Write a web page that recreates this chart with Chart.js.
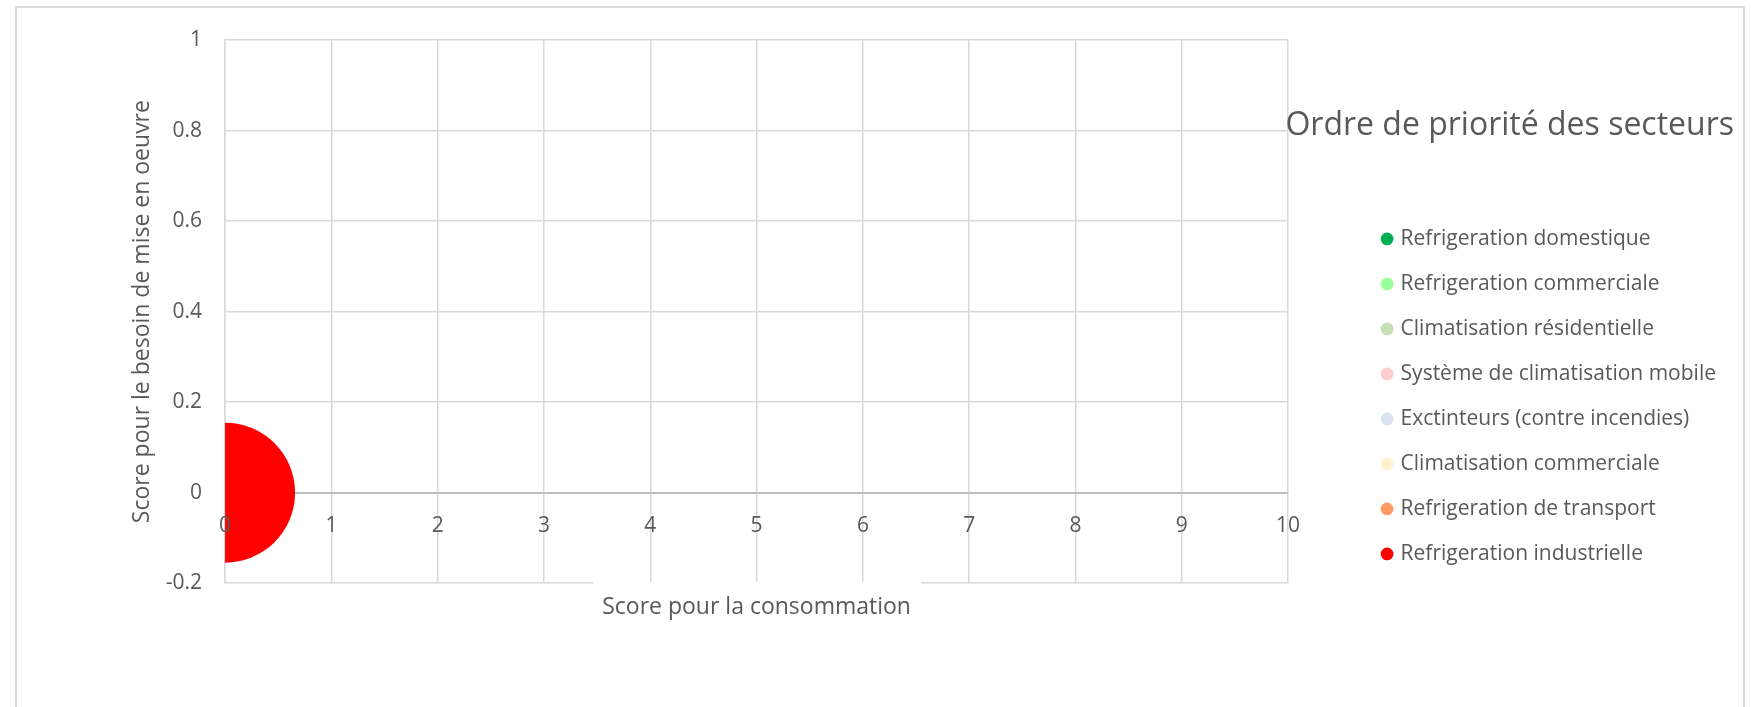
<!DOCTYPE html>
<html lang="fr">
<head>
<meta charset="utf-8">
<title>Ordre de priorité des secteurs</title>
<script src="https://cdn.jsdelivr.net/npm/chart.js@4.4.1/dist/chart.umd.min.js"></script>
<style>
  html, body { margin: 0; padding: 0; background: #ffffff; overflow: hidden; }
  #wrap { position: relative; width: 1751px; height: 707px; }
  #frame { position: absolute; left: 15px; top: 6px; width: 1730px; height: 760px;
           border: 2px solid #d9d9d9; box-sizing: border-box; }
  #chart { position: absolute; left: 0; top: 0; }
</style>
</head>
<body>
<div id="wrap">
  <div id="frame"></div>
  <canvas id="chart" width="1751" height="707"></canvas>
</div>
<script>
// Sectors, in legend order
const sectors = [
  'Refrigeration domestique',
  'Refrigeration commerciale',
  'Climatisation résidentielle',
  'Système de climatisation mobile',
  'Exctinteurs (contre incendies)',
  'Climatisation commerciale',
  'Refrigeration de transport',
  'Refrigeration industrielle'
];
const sectorColors = ['#00B050', '#99FF99', '#C5E0B4', '#FFCCCC', '#DAE3F3', '#FFF2CC', '#FF9966', '#FF0000'];

// Scores per sector (null = no point plotted)
const consumptionScore   = [null, null, null, null, null, null, null, 0];
const implementationNeed = [null, null, null, null, null, null, null, 0];
const bubbleSize         = [null, null, null, null, null, null, null, 1];

// Axis ticks
const xTickValues = [0, 1, 2, 3, 4, 5, 6, 7, 8, 9, 10];
const xTickLabels = ['0', '1', '2', '3', '4', '5', '6', '7', '8', '9', '10'];
const yTickValues = [-0.2, 0, 0.2, 0.4, 0.6, 0.8, 1];
const yTickLabels = ['-0.2', '0', '0.2', '0.4', '0.6', '0.8', '1'];

const LEGEND_TITLE = 'Ordre de priorité des secteurs';

const FONT = "'Open Sans', 'Liberation Sans', sans-serif";
const TEXT = '#595959';
const GRID = '#d9d9d9';
const MAX_BUBBLE_RADIUS = 70;
const LEGEND_TITLE_SIZE = 32;
const maxSize = Math.max(...bubbleSize.filter(v => v !== null));

const datasets = sectors.map((name, i) => ({
  label: name,
  xAxisID: 'x',
  yAxisID: 'y',
  backgroundColor: sectorColors[i],
  borderWidth: 0,
  pointStyle: 'circle',
  clip: 0,
  data: consumptionScore[i] === null ? [] : [{
    x: consumptionScore[i],
    y: implementationNeed[i],
    r: MAX_BUBBLE_RADIUS * Math.sqrt(bubbleSize[i] / maxSize)
  }]
}));

// White backdrop behind the horizontal axis title, cutting the bottom grid line
const axisTitleBackdrop = {
  id: 'axisTitleBackdrop',
  beforeDatasetsDraw(chart) {
    const t = chart.scales.x2.options.title;
    const { ctx, chartArea } = chart;
    ctx.save();
    ctx.font = t.font.size + 'px ' + t.font.family;
    const w = ctx.measureText(t.text).width;
    const cx = (chartArea.left + chartArea.right) / 2;
    ctx.fillStyle = '#ffffff';
    ctx.fillRect(cx - w / 2 - 9, chartArea.bottom - 1.5, w + 19, 3);
    ctx.restore();
  }
};

// Legend heading, right-aligned over the legend and allowed to run past its left edge
const legendHeading = {
  id: 'legendHeading',
  afterDraw(chart) {
    const lg = chart.legend;
    const pad = lg.options.title.padding;
    const ctx = chart.ctx;
    ctx.save();
    ctx.font = LEGEND_TITLE_SIZE + 'px ' + FONT;
    ctx.fillStyle = TEXT;
    ctx.textAlign = 'right';
    ctx.textBaseline = 'middle';
    ctx.fillText(LEGEND_TITLE, lg.right + 8, lg.top + pad.top + LEGEND_TITLE_SIZE / 2);
    ctx.restore();
  }
};

new Chart(document.getElementById('chart'), {
  type: 'bubble',
  data: { datasets },
  plugins: [axisTitleBackdrop, legendHeading],
  options: {
    responsive: false,
    animation: false,
    devicePixelRatio: 1,
    layout: { autoPadding: false, padding: { top: 40, left: 10, right: 25, bottom: 85.6 } },
    plugins: {
      tooltip: { enabled: false },
      legend: {
        position: 'right',
        align: 'start',
        maxWidth: 600,
        title: {
          display: true,
          text: '',
          font: { family: FONT, size: LEGEND_TITLE_SIZE },
          padding: { top: 70.2, bottom: 55.8 }
        },
        labels: {
          usePointStyle: true,
          pointStyle: 'circle',
          boxWidth: 6,
          boxHeight: 9,
          padding: 24,
          color: TEXT,
          font: { family: FONT, size: 21 }
        }
      }
    },
    scales: {
      x: {
        type: 'linear',
        position: { y: 0 },
        min: 0,
        max: 10,
        afterBuildTicks: s => { s.ticks = xTickValues.map(v => ({ value: v })); },
        grid: { color: GRID, lineWidth: 1.5, drawTicks: false },
        border: { color: '#bfbfbf', width: 2 },
        ticks: {
          z: 1,
          padding: 21,
          color: TEXT,
          maxRotation: 0,
          autoSkip: false,
          font: { family: FONT, size: 21 },
          callback: (v, i) => xTickLabels[i]
        }
      },
      x2: {
        type: 'linear',
        position: 'bottom',
        min: 0,
        max: 10,
        grid: { display: false, drawTicks: false },
        border: { display: false },
        ticks: { display: false },
        title: {
          display: true,
          text: 'Score pour la consommation',
          color: TEXT,
          font: { family: FONT, size: 23 },
          padding: { top: 10.6, bottom: 0 }
        }
      },
      y: {
        type: 'linear',
        position: 'left',
        min: -0.2,
        max: 1,
        afterBuildTicks: s => { s.ticks = yTickValues.map(v => ({ value: v })); },
        grid: { color: GRID, lineWidth: 1.5, drawTicks: true, tickLength: 14, tickColor: 'rgba(0,0,0,0)' },
        border: { color: GRID, width: 1.5 },
        ticks: {
          padding: 9,
          color: TEXT,
          font: { family: FONT, size: 21 },
          callback: (v, i) => yTickLabels[i]
        },
        title: {
          display: true,
          text: 'Score pour le besoin de mise en oeuvre',
          color: TEXT,
          font: { family: FONT, size: 23 },
          padding: { top: 118.2, bottom: 1 }
        }
      },
      y2: {
        type: 'linear',
        position: 'right',
        grid: { display: false, drawTicks: false },
        border: { display: false },
        ticks: { display: false },
        afterFit: s => { s.width = 72; }
      }
    }
  }
});
</script>
</body>
</html>
